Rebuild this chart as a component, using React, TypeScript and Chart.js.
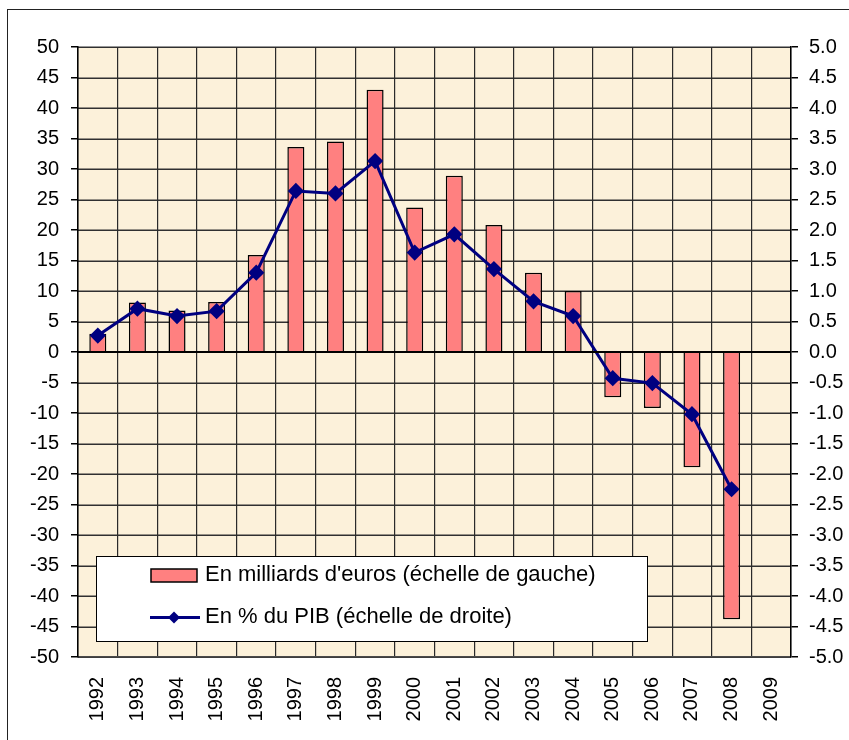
import React, { useEffect, useRef } from "react";
import { Chart, registerables } from "chart.js";

Chart.register(...registerables);

const years = ["1992","1993","1994","1995","1996","1997","1998","1999","2000","2001","2002","2003","2004","2005","2006","2007","2008","2009"];
const billionsEuros = [3.0, 8.1, 6.8, 8.2, 15.9, 33.6, 34.5, 43.0, 23.7, 28.9, 20.8, 13.0, 10.0, -7.4, -9.2, -18.9, -43.8, null];
const pctGDP = [0.27, 0.71, 0.59, 0.67, 1.30, 2.64, 2.60, 3.13, 1.63, 1.93, 1.36, 0.83, 0.59, -0.43, -0.51, -1.02, -2.25, null];
const leftTicks = [50, 45, 40, 35, 30, 25, 20, 15, 10, 5, 0, -5, -10, -15, -20, -25, -30, -35, -40, -45, -50];
const legendLabels = ["En milliards d'euros (échelle de gauche)", "En % du PIB (échelle de droite)"];

const FONT = "'Liberation Sans', Arial, sans-serif";
const BAR_COLOR = "#FF8080";
const LINE_COLOR = "#000080";

const decorPlugin = {
  id: "decor",
  beforeDraw(chart: any) {
    const { ctx, chartArea, scales } = chart;
    ctx.save();
    ctx.fillStyle = "#ffffff";
    ctx.fillRect(0, 0, chart.width, chart.height);
    ctx.fillStyle = "#FCF1DA";
    ctx.fillRect(chartArea.left, chartArea.top, chartArea.right - chartArea.left, chartArea.bottom - chartArea.top);
    ctx.strokeStyle = "#222";
    ctx.lineWidth = 1;
    ctx.strokeRect(7.5, 9.5, chart.width + 10, chart.height + 10);
    ctx.fillStyle = "#303030";
    for (const v of leftTicks) {
      const yy = Math.round(scales.y.getPixelForValue(v));
      ctx.fillRect(chartArea.left, yy - 0.5, chartArea.right - chartArea.left, 1.5);
    }
    ctx.restore();
  },
  afterDatasetsDraw(chart: any) {
    const { ctx, chartArea, scales } = chart;
    const y0 = Math.round(scales.y.getPixelForValue(0));
    ctx.save();
    ctx.fillStyle = "#000";
    ctx.fillRect(chartArea.left, y0 - 1, chartArea.right - chartArea.left, 2);
    ctx.restore();
  },
  afterDraw(chart: any) {
    const { ctx } = chart;
    ctx.save();
    ctx.fillStyle = "#ffffff";
    ctx.fillRect(96.5, 556.5, 551, 85);
    ctx.strokeStyle = "#000";
    ctx.lineWidth = 1;
    ctx.strokeRect(96.5, 556.5, 551, 85);
    ctx.fillStyle = BAR_COLOR;
    ctx.fillRect(151, 569, 46, 13);
    ctx.lineWidth = 1.5;
    ctx.strokeRect(151, 569, 46, 13);
    ctx.strokeStyle = LINE_COLOR;
    ctx.lineWidth = 3;
    ctx.beginPath();
    ctx.moveTo(150, 617.5);
    ctx.lineTo(200, 617.5);
    ctx.stroke();
    ctx.fillStyle = LINE_COLOR;
    ctx.beginPath();
    ctx.moveTo(174, 611.5);
    ctx.lineTo(180, 617.5);
    ctx.lineTo(174, 623.5);
    ctx.lineTo(168, 617.5);
    ctx.closePath();
    ctx.fill();
    ctx.fillStyle = "#000";
    ctx.font = `22px ${FONT}`;
    ctx.textBaseline = "middle";
    ctx.textAlign = "left";
    ctx.fillText(legendLabels[0], 205, 575);
    ctx.fillText(legendLabels[1], 205, 617);
    ctx.restore();
  },
};

export default function App() {
  const ref = useRef<HTMLCanvasElement | null>(null);
  useEffect(() => {
    if (!ref.current) return;
    const chart = new Chart(ref.current, {
      type: "bar",
      data: {
        labels: years,
        datasets: [
          {
            type: "line",
            label: legendLabels[1],
            data: pctGDP,
            yAxisID: "y1",
            borderColor: LINE_COLOR,
            backgroundColor: LINE_COLOR,
            borderWidth: 3,
            pointStyle: "rectRot",
            pointRadius: 6,
            pointBackgroundColor: LINE_COLOR,
            pointBorderColor: LINE_COLOR,
            tension: 0,
            fill: false,
            order: 0,
          } as any,
          {
            type: "bar",
            label: legendLabels[0],
            data: billionsEuros,
            yAxisID: "y",
            backgroundColor: BAR_COLOR,
            borderColor: "#000",
            borderWidth: 1.5,
            barPercentage: 0.43,
            categoryPercentage: 1,
            order: 1,
          } as any,
        ],
      },
      options: {
        animation: false,
        responsive: false,
        maintainAspectRatio: false,
        layout: { padding: { left: 0, right: 0, top: 47, bottom: 0 } },
        plugins: {
          legend: { display: false },
          tooltip: { enabled: false },
        },
        scales: {
          x: {
            offset: true,
            grid: { offset: true, color: "#2a2a2a", drawTicks: false, lineWidth: 1.2 },
            border: { color: "#4a4a4a", width: 1.5 },
            ticks: {
              minRotation: 90,
              maxRotation: 90,
              padding: 20,
              color: "#000",
              font: { family: FONT, size: 20 },
              autoSkip: false,
            },
            afterFit(scale: any) { scale.height = 83; },
          },
          y: {
            position: "left",
            min: -50,
            max: 50,
            ticks: { stepSize: 5, color: "#000", padding: 12, font: { family: FONT, size: 20 } },
            grid: { drawOnChartArea: false, tickColor: "#000", tickLength: 7, lineWidth: 1.5 },
            border: { color: "#000", width: 1.5 },
            afterFit(scale: any) { scale.width = 78; },
          },
          y1: {
            position: "right",
            min: -5,
            max: 5,
            ticks: {
              stepSize: 0.5,
              color: "#000",
              padding: 11,
              font: { family: FONT, size: 20 },
              callback: (v: any) => Number(v).toFixed(1),
            },
            grid: { drawOnChartArea: false, tickColor: "#000", tickLength: 7, lineWidth: 1.5 },
            border: { color: "#000", width: 1.5 },
            afterFit(scale: any) { scale.width = 58; },
          },
        },
      },
      plugins: [decorPlugin],
    });
    return () => chart.destroy();
  }, []);
  return (
    <div style={{ position: "fixed", left: 0, top: 0, width: 849, height: 740 }}>
      <canvas ref={ref} width={849} height={740} style={{ width: 849, height: 740, display: "block" }} />
    </div>
  );
}
